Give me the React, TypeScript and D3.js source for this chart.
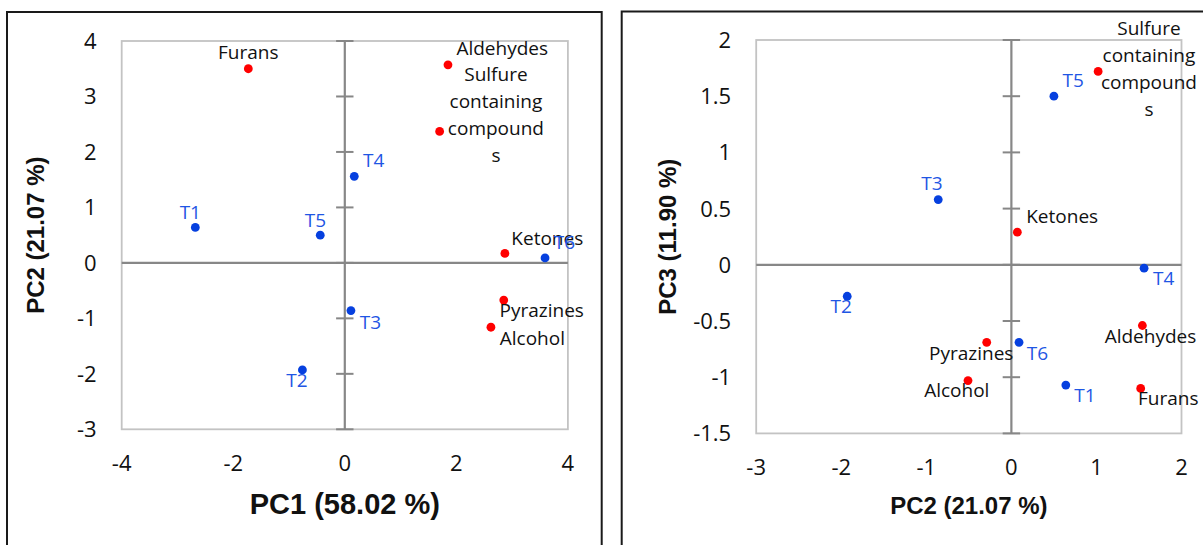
import React from 'react'
import * as d3 from 'd3'

// compounds (red) and treatments (blue)
const compounds = ['Furans', 'Aldehydes', 'Sulfure containing compounds', 'Ketones', 'Pyrazines', 'Alcohol']
const treatments = ['T1', 'T2', 'T3', 'T4', 'T5', 'T6']

// left chart: PC1 vs PC2
const pc1Compounds = [-1.73, 1.85, 1.70, 2.87, 2.85, 2.62]
const pc2CompoundsLeft = [3.50, 3.57, 2.37, 0.17, -0.67, -1.16]
const pc1Treatments = [-2.68, -0.76, 0.11, 0.17, -0.44, 3.59]
const pc2Treatments = [0.64, -1.93, -0.86, 1.56, 0.50, 0.09]

// right chart: PC2 vs PC3
const pc2CompoundsRight = [1.52, 1.54, 1.02, 0.07, -0.29, -0.51]
const pc3Compounds = [-1.10, -0.54, 1.72, 0.29, -0.69, -1.03]
const pc3Treatments = [-1.07, -0.28, 0.58, -0.03, 1.50, -0.69]

const leftXTicks = [-4, -2, 0, 2, 4]
const leftYTicks = [-3, -2, -1, 0, 1, 2, 3, 4]
const rightXTicks = [-3, -2, -1, 0, 1, 2]
const rightYTicks = [-1.5, -1, -0.5, 0, 0.5, 1, 1.5, 2]

// how the long label wraps in the original
const labelLines: Record<string, string[]> = {
  'Sulfure containing compounds': ['Sulfure', 'containing', 'compound', 's']
}

// label placement: [dx, dy, anchor] from the point
const leftLabelPos: Record<string, [number, number, string]> = {
  Furans: [0, -9.4, 'middle'],
  Aldehydes: [8.4, -9.4, 'start'],
  'Sulfure containing compounds': [56.3, -50, 'middle'],
  Ketones: [6.5, -8.7, 'start'],
  Pyrazines: [-4.2, 16.7, 'start'],
  Alcohol: [8.8, 17.4, 'start'],
  T1: [-5, -8.3, 'middle'],
  T2: [-16.1, 17.4, 'start'],
  T3: [8.8, 18.5, 'start'],
  T4: [8.8, -9.1, 'start'],
  T5: [-4.9, -8.4, 'middle'],
  T6: [8.8, -8.7, 'start']
}

const rightLabelPos: Record<string, [number, number, string]> = {
  Furans: [-2.7, 17, 'start'],
  Aldehydes: [8.1, 17.4, 'middle'],
  'Sulfure containing compounds': [50.8, -36.3, 'middle'],
  Ketones: [8.9, -9.7, 'start'],
  Pyrazines: [-15.5, 17.3, 'middle'],
  Alcohol: [-11.2, 16.7, 'middle'],
  T1: [8.4, 16.7, 'start'],
  T2: [-6.1, 16.7, 'middle'],
  T3: [-6.2, -9.8, 'middle'],
  T4: [8.9, 16.7, 'start'],
  T5: [8.7, -9, 'start'],
  T6: [7.7, 17.3, 'start']
}

const RED = '#ff0000'
const BLUE_DOT = '#0640df'
const BLUE_TEXT = '#1f56e4'
const labelFont = '"Open Sans", sans-serif'
const titleFont = '"Liberation Sans", Arial, sans-serif'

type PanelProps = {
  frame: [number, number, number, number]
  plot: [number, number, number, number]
  xDomain: [number, number]
  yDomain: [number, number]
  xTicks: number[]
  yTicks: number[]
  cx: number[]
  cy: number[]
  tx: number[]
  ty: number[]
  labelPos: Record<string, [number, number, string]>
  xTitle: string
  yTitle: string
  xTitleSize: number
  xTitleY: number
  yTitleX: number
}

function Panel (props: PanelProps) {
  const {frame, plot, xDomain, yDomain, xTicks, yTicks, cx, cy, tx, ty, labelPos} = props
  const [left, top, right, bottom] = plot
  const x = d3.scaleLinear().domain(xDomain).range([left, right])
  const y = d3.scaleLinear().domain(yDomain).range([bottom, top])

  const renderLabel = (name: string, px: number, py: number, color: string) => {
    const [dx, dy, anchor] = labelPos[name]
    const lines = labelLines[name] || [name]
    return (
      <text key={'l' + name} x={px + dx} y={py + dy} textAnchor={anchor}
        fontFamily={labelFont} fontSize={19} fill={color}>
        {lines.map((ln, i) => (
          <tspan key={i} x={px + dx} dy={i === 0 ? 0 : 26.9}>{ln}</tspan>
        ))}
      </text>
    )
  }

  return (
    <g>
      <rect x={frame[0]} y={frame[1]} width={frame[2]} height={frame[3]}
        fill='none' stroke='#1a1a1a' strokeWidth={2} />
      <rect x={left} y={top} width={right - left} height={bottom - top}
        fill='none' stroke='#c3c3c3' strokeWidth={1.8} />
      {/* zero axes */}
      <line x1={left} x2={right} y1={y(0)} y2={y(0)} stroke='#878787' strokeWidth={2.2} />
      <line x1={x(0)} x2={x(0)} y1={top} y2={bottom} stroke='#878787' strokeWidth={2.2} />
      {yTicks.map((t) => (
        <line key={'tk' + t} x1={x(0) - 8.7} x2={x(0) + 8.7} y1={y(t)} y2={y(t)}
          stroke='#878787' strokeWidth={2} />
      ))}
      {yTicks.map((t) => (
        <text key={'yt' + t} x={left - 25} y={y(t)} dy='0.36em' textAnchor='end'
          fontFamily={labelFont} fontSize={22} fill='#111'>{String(t)}</text>
      ))}
      {xTicks.map((t) => (
        <text key={'xt' + t} x={x(t)} y={bottom + 42} textAnchor='middle'
          fontFamily={labelFont} fontSize={22} fill='#111'>{String(t)}</text>
      ))}
      <text x={(left + right) / 2} y={props.xTitleY} textAnchor='middle'
        fontFamily={titleFont} fontWeight='bold' fontSize={props.xTitleSize} fill='#111'>
        {props.xTitle}
      </text>
      <text transform={`translate(${props.yTitleX},${(top + bottom) / 2}) rotate(-90)`}
        textAnchor='middle' fontFamily={titleFont} fontWeight='bold' fontSize={24} fill='#111'>
        {props.yTitle}
      </text>
      {compounds.map((c, i) => (
        <circle key={'c' + c} cx={x(cx[i])} cy={y(cy[i])} r={4.4} fill={RED} />
      ))}
      {treatments.map((t, i) => (
        <circle key={'t' + t} cx={x(tx[i])} cy={y(ty[i])} r={4.4} fill={BLUE_DOT} />
      ))}
      {compounds.map((c, i) => renderLabel(c, x(cx[i]), y(cy[i]), '#111'))}
      {treatments.map((t, i) => renderLabel(t, x(tx[i]), y(ty[i]), BLUE_TEXT))}
    </g>
  )
}

export default function App () {
  return (
    <svg width={1203} height={545} style={{position: 'fixed', left: 0, top: 0, background: '#fff'}}>
      <rect x={0} y={0} width={1203} height={545} fill='#fff' />
      <Panel
        frame={[7, 12, 594.7, 600]}
        plot={[121.7, 41, 567.9, 429.3]}
        xDomain={[-4, 4]} yDomain={[-3, 4]}
        xTicks={leftXTicks} yTicks={leftYTicks}
        cx={pc1Compounds} cy={pc2CompoundsLeft}
        tx={pc1Treatments} ty={pc2Treatments}
        labelPos={leftLabelPos}
        xTitle='PC1 (58.02 %)' yTitle='PC2 (21.07 %)'
        xTitleSize={29} xTitleY={514} yTitleX={44}
      />
      <Panel
        frame={[621.7, 11.5, 700, 600]}
        plot={[756.2, 40, 1181.5, 433.4]}
        xDomain={[-3, 2]} yDomain={[-1.5, 2]}
        xTicks={rightXTicks} yTicks={rightYTicks}
        cx={pc2CompoundsRight} cy={pc3Compounds}
        tx={pc2Treatments} ty={pc3Treatments}
        labelPos={rightLabelPos}
        xTitle='PC2 (21.07 %)' yTitle='PC3 (11.90 %)'
        xTitleSize={24} xTitleY={514} yTitleX={676}
      />
    </svg>
  )
}
